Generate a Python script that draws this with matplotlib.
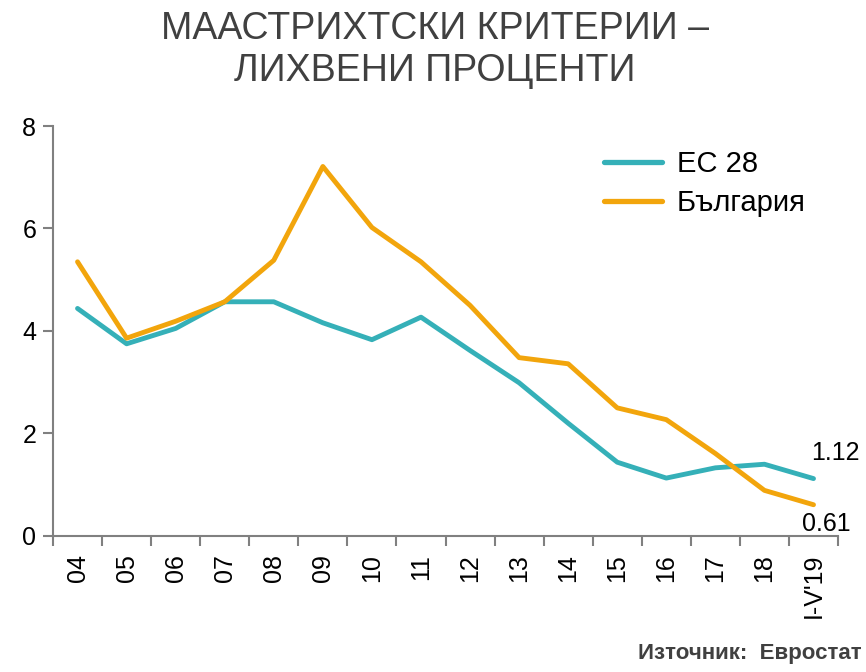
import matplotlib
matplotlib.use("Agg")
import matplotlib.pyplot as plt
from matplotlib.ticker import FixedLocator

categories = ["04", "05", "06", "07", "08", "09", "10", "11", "12", "13",
              "14", "15", "16", "17", "18", "I-V'19"]
eu28 = [4.44, 3.75, 4.05, 4.57, 4.57, 4.16, 3.83, 4.27, 3.62, 2.99,
        2.20, 1.44, 1.13, 1.33, 1.40, 1.12]
bulgaria = [5.35, 3.86, 4.19, 4.57, 5.38, 7.21, 6.02, 5.35, 4.50, 3.48,
            3.36, 2.50, 2.27, 1.61, 0.89, 0.61]
series_names = ["ЕС 28", "България"]
title_text = "МААСТРИХТСКИ КРИТЕРИИ –\nЛИХВЕНИ ПРОЦЕНТИ"
source_text = "Източник:  Евростат"

plt.rcParams['font.family'] = ['Liberation Sans', 'DejaVu Sans']

teal = "#35B0B8"
orange = "#F2A50C"
gray = "#808080"

fig = plt.figure(figsize=(8.66, 6.72), dpi=100)
ax = fig.add_axes([0.0612, 0.2024, 0.9065, 0.6101])

x = list(range(len(categories)))
ax.plot(x, eu28, color=teal, lw=3.5, label=series_names[0], solid_capstyle='round')
ax.plot(x, bulgaria, color=orange, lw=3.5, label=series_names[1], solid_capstyle='round')

ax.set_xlim(-0.5, len(categories) - 0.5)
ax.set_ylim(0, 8)
ax.set_yticks([0, 2, 4, 6, 8])

ax.xaxis.set_major_locator(FixedLocator([i - 0.5 for i in range(len(categories) + 1)]))
ax.xaxis.set_major_formatter(plt.NullFormatter())
ax.xaxis.set_minor_locator(FixedLocator(x))
ax.set_xticklabels(categories, minor=True, rotation=90, fontsize=18)
ax.tick_params(axis='x', which='minor', length=0, pad=13)
ax.tick_params(axis='x', which='major', length=7, width=1.5, color=gray, direction='out')
ax.tick_params(axis='y', length=7, width=1.5, color=gray, labelsize=18, pad=5)

for s in ['top', 'right']:
    ax.spines[s].set_visible(False)
for s in ['left', 'bottom']:
    ax.spines[s].set_color(gray)
    ax.spines[s].set_linewidth(1.5)

leg = ax.legend(loc='upper left', bbox_to_anchor=(0.668, 1.006), frameon=False,
                fontsize=21, handlelength=2.0, handletextpad=0.5, labelspacing=0.4)
for h in leg.get_lines():
    h.set_linewidth(3.8)

ax.annotate(f"{eu28[-1]:.2f}", xy=(x[-1], eu28[-1]), xytext=(16, 10),
            textcoords='offset points', fontsize=18, ha='center', va='bottom')
ax.annotate(f"{bulgaria[-1]:.2f}", xy=(x[-1], bulgaria[-1]), xytext=(9, -5),
            textcoords='offset points', fontsize=18, ha='center', va='top')

fig.text(0.502, 0.984, title_text, ha='center', va='top', fontsize=27,
         color="#404040", linespacing=1.22)
fig.text(0.995, 0.012, source_text, ha='right', va='bottom', fontsize=16,
         fontweight='bold', color="#404040",
         family=['Liberation Sans Narrow', 'Liberation Sans', 'DejaVu Sans'])

fig.savefig("out.png", dpi=100)
